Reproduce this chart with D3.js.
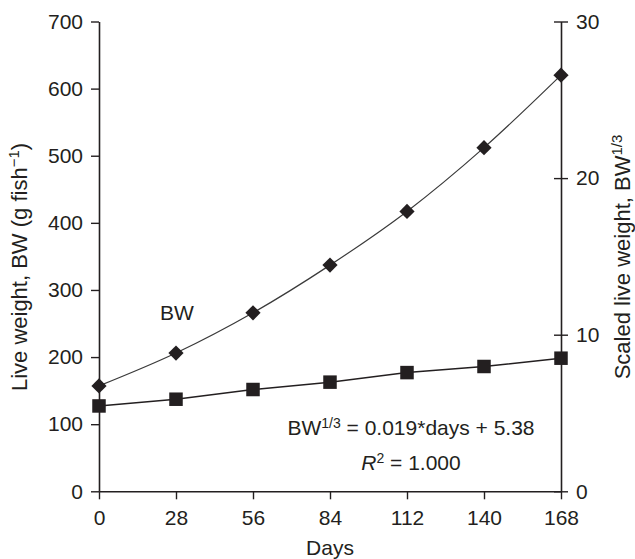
<!DOCTYPE html>
<html>
<head>
<meta charset="utf-8">
<script src="https://cdn.jsdelivr.net/npm/d3@7/dist/d3.min.js"></script>
<style>
  html, body { margin: 0; padding: 0; background: #fff; }
  svg { display: block; }
  text { font-family: "Liberation Sans", Arial, Helvetica, sans-serif; fill: #231f20; }
</style>
</head>
<body>
<svg id="chart" width="635" height="559"></svg>
<script>
// ---- data ----
const days = [0, 28, 56, 84, 112, 140, 168];
const liveWeight = [157, 206, 266, 337, 417, 512, 620];          // BW (g fish-1), left axis
const scaledWeight = [5.45, 5.88, 6.50, 6.97, 7.58, 7.97, 8.50];  // BW^1/3, right axis
const xTicks = [0, 28, 56, 84, 112, 140, 168];
const yLeftTicks = [0, 100, 200, 300, 400, 500, 600, 700];
const yRightTicks = [0, 10, 20, 30];

(function () {
// ---- layout ----
const svg = d3.select("#chart");
const mLeft = 99, mRight = 561, mTop = 21.5, mBottom = 491.3;
const FS = 21, TFS = 22;
const ink = "#231f20";

const x = d3.scaleLinear().domain([0, 168]).range([mLeft, mRight]);
const yL = d3.scaleLinear().domain([0, 700]).range([mBottom, mTop]);
const yR = d3.scaleLinear().domain([0, 30]).range([mBottom, mTop]);

function styleAxis(g) {
  g.attr("font-family", null).attr("font-size", null);
  g.selectAll("path.domain").attr("stroke", ink).attr("stroke-width", 1.6);
  g.selectAll(".tick line").attr("stroke", ink).attr("stroke-width", 1.4);
  g.selectAll(".tick text").attr("font-size", FS).attr("fill", ink);
}

// x axis
const gx = svg.append("g").attr("transform", `translate(0,${mBottom})`)
  .call(d3.axisBottom(x).tickValues(xTicks).tickSize(8).tickPadding(11).tickSizeOuter(0));
styleAxis(gx);

// left axis
const gl = svg.append("g").attr("transform", `translate(${mLeft},0)`)
  .call(d3.axisLeft(yL).tickValues(yLeftTicks).tickSize(8).tickPadding(8).tickSizeOuter(0));
styleAxis(gl);

// right axis (ticks cross the axis)
const gr = svg.append("g").attr("transform", `translate(${mRight},0)`)
  .call(d3.axisRight(yR).tickValues(yRightTicks).tickSize(7).tickPadding(8).tickSizeOuter(0));
gr.selectAll(".tick line").attr("x1", -7);
styleAxis(gr);

// ---- lines ----
const bwLine = d3.line()
  .x((d, i) => x(days[i]))
  .y(d => yL(d))
  .curve(d3.curveCatmullRom.alpha(0.5));
svg.append("path").datum(liveWeight)
  .attr("d", bwLine).attr("fill", "none").attr("stroke", "#3a3a3a").attr("stroke-width", 1.2);

const scLine = d3.line()
  .x((d, i) => x(days[i]))
  .y(d => yR(d));
svg.append("path").datum(scaledWeight)
  .attr("d", scLine).attr("fill", "none").attr("stroke", ink).attr("stroke-width", 1.5);

// ---- markers ----
svg.append("g").selectAll("path").data(liveWeight).join("path")
  .attr("transform", (d, i) => `translate(${x(days[i])},${yL(d)})`)
  .attr("d", "M0,-7.6L7.6,0L0,7.6L-7.6,0Z")
  .attr("fill", ink);

const sq = 13.5;
svg.append("g").selectAll("rect").data(scaledWeight).join("rect")
  .attr("x", (d, i) => x(days[i]) - sq / 2)
  .attr("y", d => yR(d) - sq / 2)
  .attr("width", sq).attr("height", sq)
  .attr("fill", ink);

// ---- annotations ----
svg.append("text").attr("x", 160).attr("y", 320).attr("font-size", FS).text("BW");

const eq = svg.append("text").attr("x", 411).attr("y", 435)
  .attr("text-anchor", "middle").attr("font-size", FS);
eq.append("tspan").text("BW");
eq.append("tspan").attr("font-size", 14).attr("dy", -7).text("1/3");
eq.append("tspan").attr("dy", 7).text(" = 0.019*days + 5.38");

const r2 = svg.append("text").attr("x", 411).attr("y", 470)
  .attr("text-anchor", "middle").attr("font-size", FS);
r2.append("tspan").attr("font-style", "italic").text("R");
r2.append("tspan").attr("font-size", 14).attr("dy", -7).text("2");
r2.append("tspan").attr("dy", 7).text(" = 1.000");

// ---- axis titles ----
svg.append("text").attr("x", (mLeft + mRight) / 2).attr("y", 555)
  .attr("text-anchor", "middle").attr("font-size", FS).text("Days");

const yt = svg.append("text")
  .attr("transform", "translate(27,267) rotate(-90)")
  .attr("text-anchor", "middle").attr("font-size", TFS);
yt.append("tspan").text("Live weight, BW (g fish");
yt.append("tspan").attr("font-size", 15).attr("dy", -8).text("−1");
yt.append("tspan").attr("dy", 8).text(")");

const yrt = svg.append("text")
  .attr("transform", "translate(629.5,257) rotate(-90)")
  .attr("text-anchor", "middle").attr("font-size", TFS);
yrt.append("tspan").text("Scaled live weight, BW");
yrt.append("tspan").attr("font-size", 15).attr("dy", -8).text("1/3");
})();
</script>
</body>
</html>
